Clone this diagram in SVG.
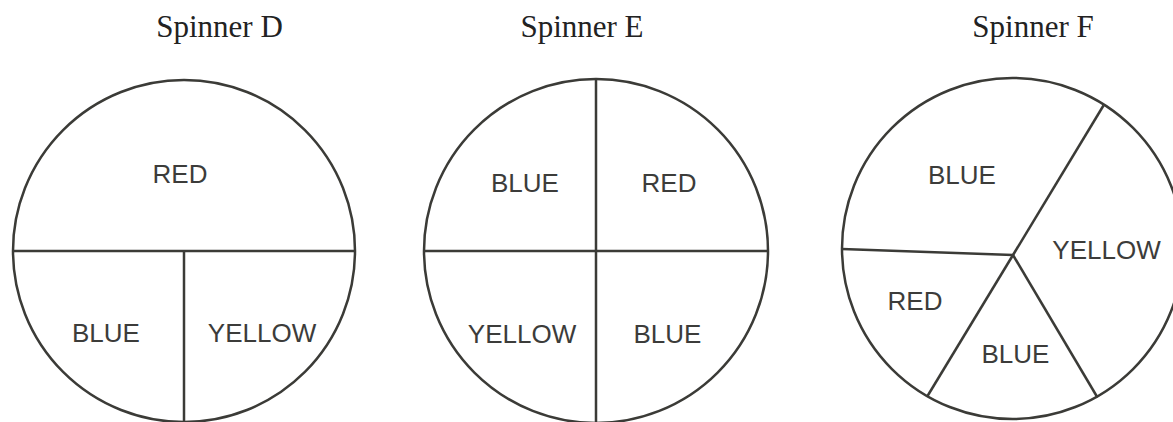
<svg xmlns="http://www.w3.org/2000/svg" width="1173" height="422" viewBox="0 0 1173 422">
<style>
.edge{fill:none;stroke:#3b3b37;stroke-width:2.5;stroke-linecap:butt}
.lbl{font-family:"Liberation Sans",Arial,sans-serif;font-size:26px;fill:#3c3c3a;text-anchor:middle}
.title{font-family:"Liberation Serif","Times New Roman",serif;font-size:31px;fill:#222;text-anchor:middle}
</style>
<rect width="1173" height="422" fill="#fff"/>
<g id="spinnerD">
  <text class="title" x="219.5" y="37">Spinner D</text>
  <circle class="edge" cx="184" cy="251" r="171"/>
  <g id="D-connectors">
    <line class="edge" x1="13" y1="251" x2="355" y2="251"/>
    <line class="edge" x1="184" y1="251" x2="184" y2="422"/>
  </g>
  <text class="lbl" x="180" y="183">RED</text>
  <text class="lbl" x="106" y="342">BLUE</text>
  <text class="lbl" x="262" y="342">YELLOW</text>
</g>
<g id="spinnerE">
  <text class="title" x="582" y="37">Spinner E</text>
  <circle class="edge" cx="596" cy="251" r="172"/>
  <g id="E-connectors">
    <line class="edge" x1="424" y1="251" x2="768" y2="251"/>
    <line class="edge" x1="596" y1="79" x2="596" y2="422"/>
  </g>
  <text class="lbl" x="525" y="192">BLUE</text>
  <text class="lbl" x="669" y="192">RED</text>
  <text class="lbl" x="522" y="343">YELLOW</text>
  <text class="lbl" x="667.5" y="343">BLUE</text>
</g>
<g id="spinnerF">
  <text class="title" x="1033" y="37">Spinner F</text>
  <circle class="edge" cx="1012.5" cy="248.5" r="170.5"/>
  <g id="F-connectors">
    <line class="edge" x1="1013" y1="255" x2="1103.5" y2="105.5"/>
    <line class="edge" x1="1013" y1="255" x2="842" y2="249"/>
    <line class="edge" x1="1013" y1="255" x2="927.5" y2="396"/>
    <line class="edge" x1="1013" y1="255" x2="1097.5" y2="397.5"/>
  </g>
  <text class="lbl" x="962" y="184">BLUE</text>
  <text class="lbl" x="1106.5" y="259">YELLOW</text>
  <text class="lbl" x="915" y="310">RED</text>
  <text class="lbl" x="1015.5" y="363">BLUE</text>
</g>
</svg>
